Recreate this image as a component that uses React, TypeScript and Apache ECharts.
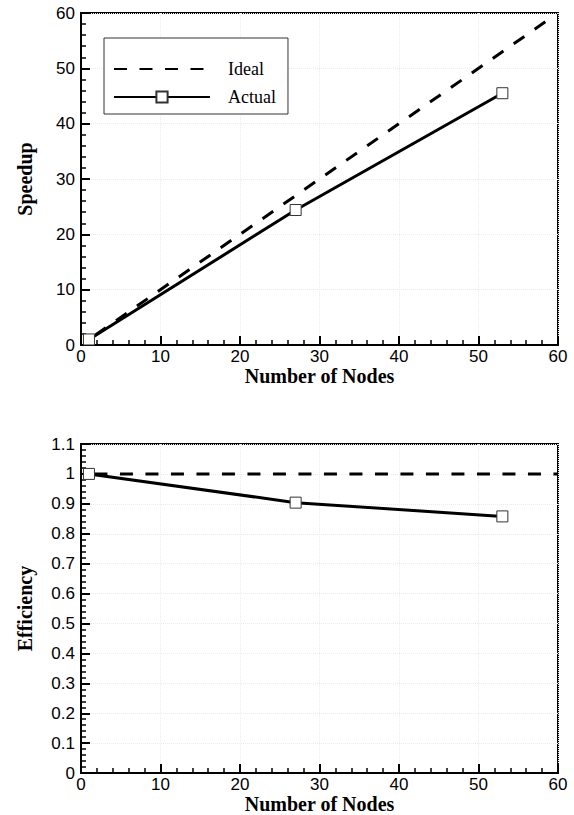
import React, { useEffect, useRef } from "react";
import * as echarts from "echarts";

const nodes = [1, 27, 53];
const speedupActual = [1, 24.4, 45.5];
const efficiencyActual = [1, 0.904, 0.858];
const idealSpeedupNodes = [1, 59];
const idealSpeedup = [1, 59];
const idealEffNodes = [1, 60];
const idealEff = [1, 1];

const sans = "Liberation Sans, Arial, sans-serif";
const serif = "Liberation Serif, Times New Roman, serif";

function pairs(xs: number[], ys: number[]) {
  return xs.map((x, i) => [x, ys[i]]);
}

const titleStyle = { fontFamily: serif, fontWeight: "bold", fontSize: 20, color: "#000" };
const labelStyle = { fontFamily: sans, fontSize: 17, color: "#000" };
const gridLine = { show: true, lineStyle: { color: "#ebebeb", type: "dotted", width: 1 } };

const xAxisBase = (gridIndex: number) => ({
  type: "value" as const,
  gridIndex,
  min: 0,
  max: 60,
  interval: 10,
  name: "Number of Nodes",
  nameLocation: "middle" as const,
  nameGap: 15,
  nameTextStyle: titleStyle,
  axisLine: { show: true, onZero: false, lineStyle: { color: "#000", width: 2 } },
  axisTick: { show: true, inside: true, length: 9, lineStyle: { color: "#000", width: 2 } },
  minorTick: { show: true, splitNumber: 5, length: 5, lineStyle: { color: "#000", width: 1.5 } },
  axisLabel: { ...labelStyle, margin: 3 },
  splitLine: gridLine,
});

const yAxisBase = (gridIndex: number, name: string, max: number, interval: number) => ({
  type: "value" as const,
  gridIndex,
  min: 0,
  max,
  interval,
  name,
  nameLocation: "middle" as const,
  nameGap: 46,
  nameTextStyle: titleStyle,
  axisLine: { show: true, onZero: false, lineStyle: { color: "#000", width: 2 } },
  axisTick: { show: true, inside: true, length: 9, lineStyle: { color: "#000", width: 2 } },
  minorTick: { show: true, splitNumber: 5, length: 5, lineStyle: { color: "#000", width: 1.5 } },
  axisLabel: { ...labelStyle, margin: 6 },
  splitLine: gridLine,
});

const markerStyle = { color: "#fff", borderColor: "#333", borderWidth: 1 };

export default function App() {
  const ref = useRef<HTMLDivElement>(null);
  useEffect(() => {
    if (!ref.current) return;
    const chart = echarts.init(ref.current, undefined, { renderer: "svg" });
    chart.setOption({
      animation: false,
      backgroundColor: "#fff",
      grid: [
        { left: 81, top: 13, width: 477, height: 332, show: true, borderColor: "#000", borderWidth: 2, backgroundColor: "transparent" },
        { left: 81, top: 444, width: 477, height: 332, show: true, borderColor: "#000", borderWidth: 2, backgroundColor: "transparent" },
      ],
      xAxis: [xAxisBase(0), xAxisBase(1)],
      yAxis: [yAxisBase(0, "Speedup", 60, 10), yAxisBase(1, "Efficiency", 1.1, 0.1)],
      legend: {
        data: [{ name: "Ideal", itemStyle: { opacity: 0 } }, { name: "Actual" }],
        orient: "vertical",
        left: 104,
        top: 38,
        itemWidth: 96,
        itemHeight: 14,
        itemGap: 10,
        padding: [22, 12, 8, 9],
        borderColor: "#333",
        borderWidth: 1,
        backgroundColor: "#fff",
        lineStyle: { dashOffset: 0 },
        textStyle: { fontFamily: serif, fontSize: 18, color: "#000", padding: [0, 0, 0, 13] },
      },
      series: [
        {
          name: "Ideal",
          type: "line",
          xAxisIndex: 0,
          yAxisIndex: 0,
          data: pairs(idealSpeedupNodes, idealSpeedup),
          symbol: "none",
          lineStyle: { color: "#000", width: 3, type: [13, 12.5], dashOffset: 17.5 },
          itemStyle: { color: "#000" },
        },
        {
          name: "Actual",
          type: "line",
          xAxisIndex: 0,
          yAxisIndex: 0,
          data: pairs(nodes, speedupActual),
          symbol: "rect",
          symbolSize: 11,
          lineStyle: { color: "#000", width: 3 },
          itemStyle: markerStyle,
          z: 3,
        },
        {
          name: "Ideal efficiency",
          type: "line",
          xAxisIndex: 1,
          yAxisIndex: 1,
          data: pairs(idealEffNodes, idealEff),
          symbol: "none",
          lineStyle: { color: "#000", width: 3, type: [13, 12.5], dashOffset: 19.5 },
        },
        {
          name: "Actual efficiency",
          type: "line",
          xAxisIndex: 1,
          yAxisIndex: 1,
          data: pairs(nodes, efficiencyActual),
          symbol: "rect",
          symbolSize: 11,
          lineStyle: { color: "#000", width: 3 },
          itemStyle: markerStyle,
          z: 3,
        },
      ],
    });
    return () => chart.dispose();
  }, []);
  return (
    <div
      ref={ref}
      style={{ position: "absolute", left: 0, top: 0, width: 574, height: 815, background: "#fff" }}
    />
  );
}
